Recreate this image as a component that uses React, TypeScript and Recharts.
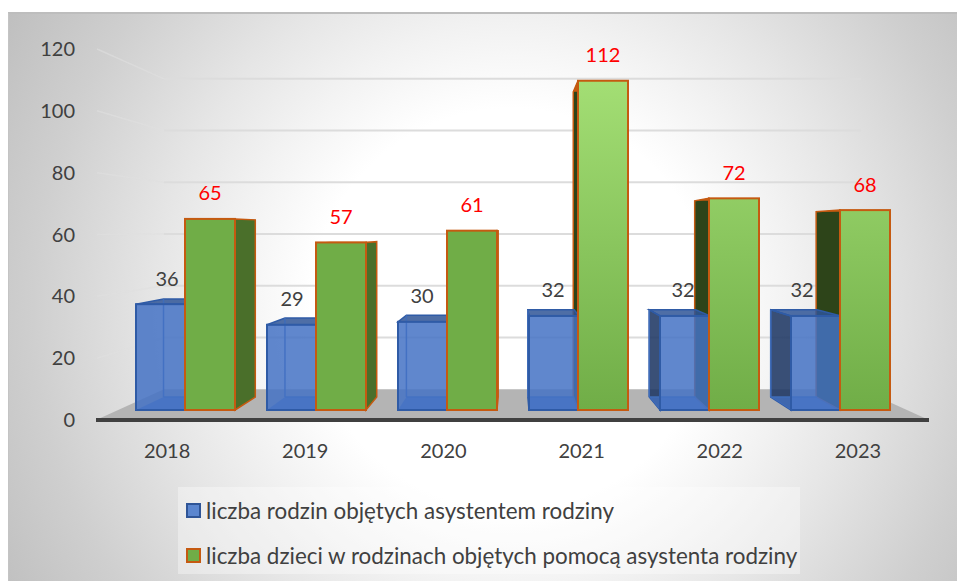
import React from 'react'
import { BarChart, Bar, XAxis, YAxis, CartesianGrid, LabelList, Legend } from 'recharts'

const years = ['2018', '2019', '2020', '2021', '2022', '2023']
const families = [36, 29, 30, 32, 32, 32]
const children = [65, 57, 61, 112, 72, 68]
const yTicks = [0, 20, 40, 60, 80, 100, 120]
const familiesName = 'liczba rodzin objętych asystentem rodziny'
const childrenName = 'liczba dzieci w rodzinach objętych pomocą asystenta rodziny'

const chartData = years.map((year, i) => ({ year, families: families[i], children: children[i] }))

// the Excel chart is in perspective, everything recedes to this point
const VP_X = 513
const VP_Y = 232
const WALL_DEPTH = 0.837
const BAR_DEPTH = 0.927
const BAR_WIDTH = 50
const BAR_GAP = -1
const TEXT_FONT = 'Lato, sans-serif'
// the family labels don't sit quite centred over their bars in the original
const familyLabelShift = [6, 0, -1, -1, -2, -14]

const toBack = (x: number, y: number, depth = BAR_DEPTH) => [VP_X + depth * (x - VP_X), VP_Y + depth * (y - VP_Y)]
const pts = (list: number[][]) => list.map((p) => p.join(',')).join(' ')

function GridLine(props: any) {
    const { x1, x2, y1 } = props
    const [bx1, by] = toBack(x1, y1, WALL_DEPTH)
    const [bx2] = toBack(x2, y1, WALL_DEPTH)
    if (y1 > 400) {
        return (
            <polygon
                key="floor"
                points={pts([[x1, y1], [bx1, by], [bx2, by], [x2, y1]])}
                fill="#b4b4b4"
            />
        )
    }
    return (
        <g key={`grid-${y1}`}>
            <line x1={x1 + 1} y1={y1} x2={bx1} y2={by} stroke="#dfdfdf" strokeOpacity={0.6} strokeWidth={1.5} />
            <line x1={bx1} y1={by} x2={bx2} y2={by} stroke="#dcdcdc" strokeWidth={2} />
        </g>
    )
}

// draws the blue box, and the dark sides of the green box which show through it
function FamilyBox(props: any) {
    const { x, y, width, height, payload } = props
    const base = y + height
    const right = x + width
    const unit = height / payload.families
    const gx1 = right + BAR_GAP
    const gx2 = gx1 + BAR_WIDTH
    const gTop = base - payload.children * unit

    const gBackL = toBack(gx1, gTop)
    const gBackR = toBack(gx2, gTop)
    const gBaseL = toBack(gx1, base)
    const gBaseR = toBack(gx2, base)

    const tl = toBack(x, y)
    const tr = toBack(right, y)
    const bl = toBack(x, base)
    const br = toBack(right, base)
    const edge = '#2f5ba6'

    return (
        <g>
            {gBackR[0] > gx2 && (
                <polygon
                    points={pts([[gx2, gTop], gBackR, gBaseR, [gx2, base]])}
                    fill="#4a6f2a"
                    stroke="#c55a11"
                    strokeWidth={1.5}
                />
            )}
            {gBackL[0] < gx1 && (
                <polygon
                    points={pts([[gx1, gTop], gBackL, gBaseL, [gx1, base]])}
                    fill="#2d4419"
                    stroke="#c55a11"
                    strokeWidth={1.5}
                />
            )}
            <polygon points={pts([[gx1, gTop], gBackL, gBackR, [gx2, gTop]])} fill="#c55a11" />

            {tl[0] < x && (
                <polygon points={pts([[x, y], tl, bl, [x, base]])} fill="#1f3864" fillOpacity={0.88} stroke={edge} strokeWidth={1.5} />
            )}
            <polygon points={pts([[x, y], tl, tr, [right, y]])} fill="#2f5597" fillOpacity={0.85} stroke={edge} strokeWidth={1.5} />
            <polygon points={pts([[x, base], bl, br, [right, base]])} fill="#4472c4" fillOpacity={0.75} />
            <line x1={tl[0]} y1={tl[1]} x2={bl[0]} y2={bl[1]} stroke="#3f6cb8" strokeWidth={1.5} />
            <line x1={bl[0]} y1={bl[1]} x2={br[0]} y2={br[1]} stroke="#3f6cb8" strokeWidth={1.5} />
            <rect x={x} y={y} width={width} height={height} fill="#4472c4" fillOpacity={0.85} stroke={edge} strokeWidth={2} />
        </g>
    )
}

function ChildrenBox(props: any) {
    const { x, y, width, height, index } = props
    return (
        <rect
            x={x}
            y={y}
            width={width}
            height={height}
            fill={index >= 3 ? 'url(#greenLit)' : '#70ad47'}
            stroke="#c55a11"
            strokeWidth={2}
        />
    )
}

function FamilyLabel(props: any) {
    const { x, y, width, value, index } = props
    return (
        <text
            x={x + width / 2 + familyLabelShift[index]}
            y={y - 26.5}
            textAnchor="middle"
            dominantBaseline="central"
            fontFamily={TEXT_FONT}
            fontSize={20}
            fill="#404040"
        >
            {value}
        </text>
    )
}

function ChildrenLabel(props: any) {
    const { x, y, width, value } = props
    return (
        <text
            x={x + width / 2}
            y={y - 26.5}
            textAnchor="middle"
            dominantBaseline="central"
            fontFamily={TEXT_FONT}
            fontSize={20}
            fill="#ff0000"
        >
            {value}
        </text>
    )
}

const swatches = [
    { fill: '#5b86cf', stroke: '#2f5597' },
    { fill: '#70ad47', stroke: '#c55a11' }
]

function LegendBox({ payload }: any) {
    const entries = (payload || []).filter((entry: any) => entry.type !== 'none' && entry.value)
    return (
        <div style={{ paddingTop: 1 }}>
            {entries.map((entry: any) => {
                const swatch = entry.value === familiesName ? swatches[0] : swatches[1]
                return (
                    <div
                        key={entry.value}
                        style={{ display: 'flex', alignItems: 'center', height: 45, whiteSpace: 'nowrap' }}
                    >
                        <span
                            style={{
                                display: 'inline-block',
                                boxSizing: 'border-box',
                                width: 15,
                                height: 15,
                                marginLeft: 8,
                                marginRight: 5,
                                background: swatch.fill,
                                border: `2px solid ${swatch.stroke}`
                            }}
                        />
                        <span style={{ fontFamily: TEXT_FONT, fontSize: 22.4, color: '#404040' }}>{entry.value}</span>
                    </div>
                )
            })}
        </div>
    )
}

export default function App() {
    return (
        <div style={{ position: 'absolute', left: 0, top: 0, width: 957, height: 581, background: '#fff', overflow: 'hidden' }}>
            <div
                style={{
                    position: 'absolute',
                    left: 8,
                    top: 12,
                    width: 949,
                    height: 569,
                    boxSizing: 'border-box',
                    borderTop: '2px solid #bdbdbd',
                    borderLeft: '1px solid #c4c4c4',
                    background:
                        'radial-gradient(circle 590px at 502px 295px, #ffffff 0%, #ffffff 34%, #f2f2f2 48%, #e6e6e6 60%, #cfcfcf 81%, #bebebe 100%)'
                }}
            />
            <div style={{ position: 'absolute', left: 0, top: 0 }}>
                <BarChart
                    width={957}
                    height={581}
                    data={chartData}
                    barSize={BAR_WIDTH}
                    barGap={BAR_GAP}
                    margin={{ top: 49, right: 28, bottom: 131, left: 36 }}
                >
                    <defs>
                        <linearGradient id="greenLit" gradientUnits="userSpaceOnUse" x1="0" y1="81" x2="0" y2="410">
                            <stop offset="0%" stopColor="#a3de74" />
                            <stop offset="100%" stopColor="#70ad47" />
                        </linearGradient>
                    </defs>
                    <CartesianGrid xAxisId="labels" yAxisId="labels" vertical={false} horizontal={GridLine} />
                    <XAxis
                        xAxisId="labels"
                        dataKey="year"
                        padding={{ left: 2, right: 2 }}
                        tickLine={false}
                        tickSize={0}
                        tickMargin={24}
                        axisLine={{ stroke: '#404040', strokeWidth: 4 }}
                        tick={{ fontFamily: TEXT_FONT, fontSize: 20, fill: '#404040' }}
                    />
                    <XAxis xAxisId="bars" dataKey="year" hide height={0} padding={{ left: 24, right: 23 }} />
                    <YAxis
                        yAxisId="labels"
                        width={60}
                        type="number"
                        domain={[0, 120]}
                        ticks={yTicks}
                        interval={0}
                        tickLine={false}
                        tickSize={0}
                        tickMargin={21}
                        axisLine={false}
                        tick={{ fontFamily: TEXT_FONT, fontSize: 20, fill: '#404040' }}
                    />
                    <YAxis yAxisId="bars" hide width={0} type="number" domain={[-3.4, 122.8]} allowDataOverflow />
                    {/* draws nothing, the label axis only gets its ticks with a series on it */}
                    <Bar
                        xAxisId="labels"
                        yAxisId="labels"
                        dataKey="children"
                        legendType="none"
                        fill="none"
                        shape={() => <g />}
                        isAnimationActive={false}
                    />
                    <Bar
                        xAxisId="bars"
                        yAxisId="bars"
                        dataKey="families"
                        name={familiesName}
                        fill="#4472c4"
                        shape={FamilyBox}
                        isAnimationActive={false}
                    >
                        <LabelList dataKey="families" content={FamilyLabel} />
                    </Bar>
                    <Bar
                        xAxisId="bars"
                        yAxisId="bars"
                        dataKey="children"
                        name={childrenName}
                        fill="#70ad47"
                        shape={ChildrenBox}
                        isAnimationActive={false}
                    >
                        <LabelList dataKey="children" content={ChildrenLabel} />
                    </Bar>
                    <Legend
                        layout="vertical"
                        align="center"
                        verticalAlign="middle"
                        itemSorter={null as any}
                        content={LegendBox}
                        wrapperStyle={{
                            left: 178,
                            top: 487,
                            width: 622,
                            height: 87,
                            background: 'rgba(255,255,255,0.35)'
                        }}
                    />
                </BarChart>
            </div>
        </div>
    )
}
